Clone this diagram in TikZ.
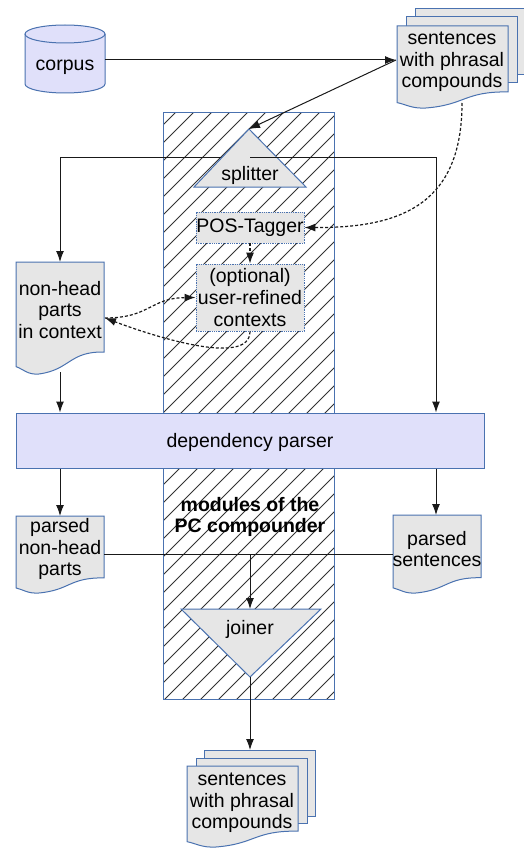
\documentclass[tikz,border=0pt]{standalone}
\usepackage{fontspec}
\setmainfont{Liberation Sans}
\usetikzlibrary{arrows.meta}
\definecolor{bord}{HTML}{4A72B0}
\definecolor{lav}{HTML}{E0E0FA}
\definecolor{gfill}{HTML}{E6E6E6}
\definecolor{hatchc}{HTML}{333333}
\newcommand\docshp[4]{%
  \draw[docsty] (#1,#2) -- ({#1+#3},#2) -- ({#1+#3},{#2+0.804*#4})
    .. controls ({#1+0.604*#3},{#2+0.797*#4}) and ({#1+0.618*#3},{#2+0.962*#4}) .. ({#1+0.26*#3},{#2+#4})
    .. controls ({#1+0.132*#3},{#2+1.009*#4}) and ({#1+0.086*#3},{#2+0.958*#4}) .. (#1,{#2+0.934*#4}) -- cycle;}
\begin{document}
\begin{tikzpicture}[x=1pt,y=-1pt,
  txt/.style={font=\fontsize{19.5}{21.7}\selectfont, align=center, inner sep=0pt},
  conn/.style={line width=1pt, draw=black!90},
  arr/.style={conn, -{Latex[length=11pt,width=8pt]}},
  dotarr/.style={arr, line width=1.2pt, dash pattern=on 3pt off 2pt},
  shapesty/.style={draw=bord, line width=1pt},
  docsty/.style={shapesty, fill=gfill},
  hatchl/.style={draw=hatchc, line width=0.9pt},
]
\useasboundingbox (0,0) rectangle (524,848);

% hatched module area
\fill[white] (163,113) rectangle (334,699);
\begin{scope}
  \clip (163,113) rectangle (334,699);
  \foreach \c in {270,288,...,1050} \draw[hatchl] ({\c-100},100) -- ({\c-712},712);
\end{scope}
\draw[shapesty] (163,113) rectangle (334,699);

% named points
\coordinate (corpusE) at (105,60);
\coordinate (sentin) at (396,60);
\coordinate (sentbot) at (462,103);
\coordinate (splapex) at (249,129);
\coordinate (splmid) at (250,157);
\coordinate (nhtop) at (60,262);
\coordinate (nhR) at (105,318);
\coordinate (nhbot) at (60,372);
\coordinate (pnhtop) at (60,516);
\coordinate (pnhR) at (104,554);
\coordinate (pstop) at (436,515);
\coordinate (psL) at (393,554);
\coordinate (joinin) at (250,554);
\coordinate (jointop) at (250,609);
\coordinate (joinapex) at (250,677);
\coordinate (stack2top) at (250,750);

% splitter output line (under splitter)
\draw[arr] (splmid) -| (nhtop);

% corpus cylinder
\fill[lav] (25,34) -- (25,84) arc[start angle=180,end angle=0,x radius=40,y radius=9]
  -- (105,34) arc[start angle=0,end angle=-180,x radius=40,y radius=9] -- cycle;
\draw[shapesty] (25,34) -- (25,84) arc[start angle=180,end angle=0,x radius=40,y radius=9] -- (105,34);
\draw[shapesty] (65,34) ellipse[x radius=40,y radius=9];
\node[txt] (corpus) at (65,67.5) {corpus};

% top document stack
\draw[docsty] (415,9) rectangle (526,75);
\draw[docsty] (406,17) rectangle (517,83);
\docshp{397}{26}{111}{82}
\node[txt] (sent1) at (452,62) {sentences\\with phrasal\\compounds};

% splitter
\draw[docsty] (194,187) -- (306,187) -- (249,129) -- cycle;
\node[txt] (split) at (250,175.5) {splitter};

% POS tagger and refined contexts
\node[txt, fill=gfill, draw=bord, densely dotted, line width=0.8pt, minimum width=108pt, minimum height=31pt] (pos) at (250,227.5) {POS-Tagger};
\node[txt, fill=gfill, draw=bord, densely dotted, line width=0.8pt, minimum width=108pt, minimum height=67pt] (ref) at (250,297.5) {(optional)\\user-refined\\contexts};

% non-head parts in context
\docshp{16}{262}{88}{112}
\node[txt] (nonhead) at (60,310) {non-head\\parts\\in context};

% dependency parser
\node[txt, draw=bord, fill=lav, line width=1pt, minimum width=468pt, minimum height=55pt, text depth=0pt] (parser) at (250,440.5) {dependency parser};

% modules label
\node[txt, font=\fontsize{19.5}{21.7}\selectfont\bfseries] (modules) at (250,517) {modules of the\\PC compounder};

% parsed docs
\docshp{16}{516}{88}{77}
\node[txt] (pnh) at (60,549) {parsed\\non-head\\parts};
\docshp{393}{515}{88}{78}
\node[txt] (ps) at (437,549) {parsed\\sentences};

% joiner
\draw[docsty] (181,609) -- (321,609) -- (250,677) -- cycle;
\node[txt] (joiner) at (250,629.5) {joiner};

% bottom document stack
\draw[docsty] (204,750) rectangle (315,816);
\draw[docsty] (196,758) rectangle (307,823);
\docshp{187}{766}{111}{81}
\node[txt] (sent2) at (242,803) {sentences\\with phrasal\\compounds};

% connectors
\draw[arr] (corpusE) -- (sentin);
\draw[arr] (sentin) -- (splapex);
\draw[arr] (splmid) -| (parser.north -| pstop);
\draw[dotarr] (sentbot) .. controls (462,205) and (400,228) .. (pos.east);
\draw[dotarr] (pos.south) -- (ref.north);
\draw[dotarr] (nhR) .. controls (150,318) and (150,298) .. (ref.west);
\draw[dotarr] (ref.south) .. controls (250,368) and (150,335) .. (nhR);
\draw[arr] (nhbot) -- (parser.north -| nhbot);
\draw[arr] (parser.south -| pnhtop) -- (pnhtop);
\draw[arr] (parser.south -| pstop) -- (pstop);
\draw[conn] (pnhR) -- (psL);
\draw[arr] (joinin) -- (jointop);
\draw[arr] (joinapex) -- (stack2top);
\end{tikzpicture}
\end{document}
